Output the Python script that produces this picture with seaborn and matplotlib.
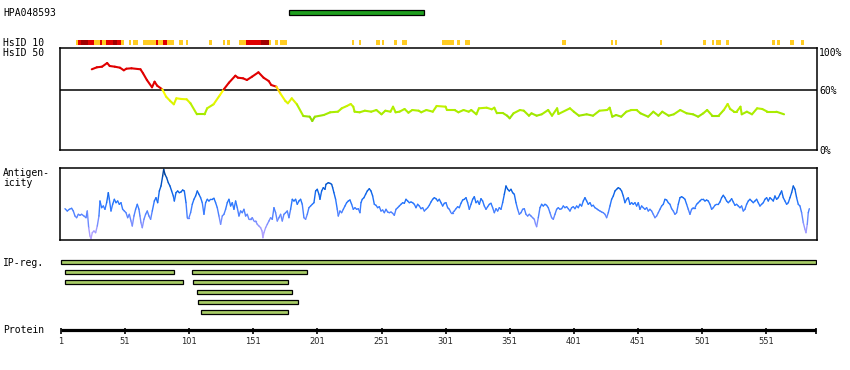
"""Protein feature overview: HsID conservation, antigenicity, IP regions."""
import matplotlib
matplotlib.use("Agg")
import matplotlib.pyplot as plt
import numpy as np
import seaborn as sns
from matplotlib.collections import LineCollection
from matplotlib.colors import LinearSegmentedColormap, Normalize
from matplotlib.patches import Rectangle

sns.set_theme(style="white")
plt.rcParams["font.family"] = ["DejaVu Sans Mono", "DejaVu Sans"]

# ---- data -----------------------------------------------------------------
PROTEIN_LEN = 590
antigen_name = "HPA048593"
antigen_start, antigen_end = 179, 284

# HsID 10 strip: residue ranges, level 0 = low, 1 = mid, 2 = high identity
hsid10_start = [13, 14.3, 16.6, 22.1, 26.7, 31.4, 33, 36.1, 41.8, 45, 47.8, 54, 57.2,
                65, 75.1, 76.7, 80.6, 83.7, 93, 98.5, 116.4, 127.4, 130.5, 139.8,
                145.3, 157, 163.2, 167.9, 171.8, 228, 233.5, 246.7, 251.4, 260.7,
                267, 298.2, 309.9, 316.1, 391.8, 430, 433.1, 468.2, 501.8, 508.8,
                512, 519.7, 555.6, 559.5, 569.6, 578.2]
hsid10_end = [14.3, 16.6, 22.1, 26.7, 31.4, 33, 36.1, 41.8, 45, 47.8, 50.1, 55.6, 61,
              75.1, 76.7, 80.6, 83.7, 89.1, 96.2, 100, 118.8, 128.9, 132.8, 145.3,
              157, 163.2, 164.8, 170.3, 177.3, 229.5, 235, 249.8, 253, 263,
              270.9, 307.6, 312.2, 320, 395, 431.6, 434.7, 469.7, 504.1, 510.4,
              515.9, 522.1, 557.9, 561.9, 572.8, 580.5]
hsid10_level = [0, 1, 2, 1, 0, 1, 0, 1, 2, 1, 0, 0, 0,
                0, 1, 0, 1, 0, 0, 0, 0, 0, 0, 0,
                1, 2, 0, 0, 0, 0, 0, 0, 0, 0,
                0, 0, 0, 0, 0, 0, 0, 0, 0, 0,
                0, 0, 0, 0, 0, 0]

# HsID 50 identity (%) along the sequence
hsid50_res = [25, 29, 33, 37, 39, 43, 47, 50, 52, 56, 63, 65, 68, 72, 74, 76, 80, 83,
              86, 89, 91, 95, 99, 102, 107, 113, 115, 120, 125, 128, 132, 137, 139,
              143, 146, 150, 155, 159, 163, 165, 169, 172, 176, 178, 181, 185, 190,
              195, 197, 199, 206, 211, 217, 220, 224, 227, 229, 230, 234, 238, 243,
              247, 251, 254, 258, 260, 262, 265, 269, 272, 275, 280, 282, 286, 291,
              294, 301, 302, 308, 311, 315, 319, 321, 325, 327, 333, 337, 339, 341,
              346, 349, 351, 354, 359, 362, 366, 368, 372, 376, 381, 384, 388, 389,
              398, 401, 405, 411, 416, 421, 427, 429, 431, 434, 438, 442, 446, 450,
              453, 459, 463, 467, 470, 475, 479, 484, 489, 494, 498, 502, 505, 509,
              514, 518, 521, 523, 526, 528, 531, 532, 536, 540, 544, 548, 552, 559,
              565]
hsid50_pct = [80.7, 82.7, 83.3, 87, 84, 83.3, 82.3, 79.7, 81.3, 81.7, 80.7, 76.7, 70,
              62.7, 68.3, 64.3, 60.7, 53.3, 49.3, 45.7, 51.7, 51, 50.7, 46.7, 35.7,
              35.7, 41.7, 45.7, 55, 60.7, 67.3, 74.3, 72.3, 71.7, 70, 73.3, 77.7,
              72.3, 69, 65, 63.3, 56.7, 49, 46.7, 51.7, 45.7, 34, 33.3, 29, 33.3, 35,
              37.7, 38.3, 41.7, 44, 46, 43.3, 38.3, 37.7, 39.3, 38.3, 40, 35.7, 39.3,
              38.3, 43.3, 37.7, 38.3, 41, 37.3, 40, 39.3, 37.7, 40, 38.3, 44, 43.3,
              40, 40, 37.7, 40, 38.3, 40, 35.7, 41.7, 42.3, 40.7, 42.3, 36.7, 36.7,
              34.3, 31.7, 36.7, 40, 39.3, 34.3, 36.7, 34.3, 35.7, 40, 34.3, 41.7, 36,
              41.7, 38.3, 34.3, 35.7, 34.3, 39.3, 40, 42.3, 33.3, 35, 33.3, 38.3, 40,
              40, 36.7, 33.3, 38.3, 34.3, 38.3, 34.3, 35.7, 40, 36.7, 35.7, 33.3,
              36.7, 40, 34.3, 34.3, 40, 46, 41, 38.3, 38.3, 43.3, 35.7, 38.3, 35.7,
              41.7, 41, 38.3, 38.3, 35.7]

# antigenicity profile (arbitrary score)
antigen_res = [
    4.1, 5.9, 7.5, 9.3, 10.6, 11.9, 13.2, 14.5, 15.8, 17.1, 18.9, 20.5, 21.5, 22.6,
    23.6, 24.4, 25.4, 26.7, 28, 29.3, 30.6, 31.4, 32.7, 34, 35.3, 36.6, 37.9, 38.7,
    40, 41.3, 42.6, 43.9, 45.2, 46.5, 47.8, 49.1, 50.4, 51.7, 53, 54.3, 55.6, 56.6,
    57.9, 59.2, 60.5, 61.8, 62.6, 63.4, 64.4, 65.7, 67, 68.3, 69.6, 70.9, 72.2, 73.8,
    75.1, 76.4, 77.7, 79, 80.3, 81.1, 82.1, 83.4, 84.7, 86, 87.3, 88.6, 89.4, 90.7,
    92, 93.3, 94.6, 95.9, 97.2, 98.5, 99.5, 100.8, 102.1, 103.4, 104.7, 106, 107.3,
    108.6, 109.9, 111.2, 112.5, 113.8, 115.1, 116.4, 117.7, 119, 120.3, 121.6, 122.9,
    124.2, 125.5, 126.8, 128.1, 129.4, 130.7, 132, 133.3, 134.6, 135.9, 137.2, 138.5,
    139.8, 141.1, 142.4, 143.7, 145, 146.3, 147.6, 148.9, 150.2, 151.5, 152.8, 154.1,
    155.4, 156.7, 157.8, 158.5, 159.3, 160.6, 161.9, 163.2, 164.5, 165.8, 167.1,
    168.4, 169.7, 171, 172.3, 173.6, 174.9, 176.2, 177.5, 178.8, 180.1, 181.4, 182.7,
    184, 185.3, 186.6, 187.9, 189.2, 190.5, 191.8, 193.1, 194.4, 195.7, 197, 198.3,
    199.6, 200.9, 202.2, 203,
    204.3, 205.6, 206.9, 207.7, 209.5, 210.8, 212.1, 212.9, 213.9, 215.2, 216.5,
    217.3, 218.6, 219.9, 221.2, 222.5, 223.8, 225.1, 226.4, 227.7, 229, 230.3, 231.6,
    232.9, 234.2, 235, 236, 237.3, 238.6, 239.9, 241.5, 242.8, 244.1, 245.4, 246.7,
    248, 249.3, 250.6, 251.9, 253.2, 254.5, 255.8, 257.1, 258.4, 259.7, 261, 262.3,
    263.6, 264.9, 266.2, 267.5, 268.8, 270.1, 271.4, 272.7, 274, 275.3, 276.6, 277.9,
    279.2, 280.5, 281.8, 283.1, 284.4, 285.7, 287, 288.3, 289.6, 290.9, 292.2, 293.5,
    294.8, 296.1, 297.4, 298.7, 300, 301.3, 302.6, 303.9, 305.2, 306.5, 307.8, 309.1,
    310.4, 311.7, 313, 314.3, 315.6, 316.9, 318.2, 319.5, 320.8, 322.1, 323.4, 324.7,
    326, 327.3, 328.6, 329.9, 331.2, 332.5, 333.8, 335.1, 336.4, 337.7, 339, 340.3,
    341.6, 342.9, 344.2, 345.5, 346.8, 348.1, 349.4, 350.7, 352, 353.3, 354.6, 355.9,
    357.2, 358.5, 359.8, 361.1, 362.4, 363.7, 365, 366.3, 367.6, 368.9, 370.2, 371.2,
    372, 373.3, 374.6, 375.9, 377.2, 378.5, 379.8, 381.1, 382.4, 383.7, 385, 386.3,
    387.6, 388.9, 390.2, 391.5, 392.8, 394.1, 395.4, 396.7, 398,
    399.3, 400.6, 401.9, 403.2, 404.5, 405.8, 407.1, 408.4, 409.7, 411, 412.3, 413.6,
    414.9, 416.2, 417.5, 418.8, 420.1, 421.4, 422.7, 424, 425.3, 426.6, 427.9, 429.2,
    430.5, 431.8, 433.1, 434.4, 435.7, 437, 438.3, 439.6, 440.9, 442.2, 443.5, 444.8,
    446.1, 447.4, 448.7, 450, 451.3, 452.6, 453.9, 455.2, 456.5, 457.8, 459.1, 460.4,
    461.7, 463, 464.3, 465.6, 466.9, 468.2, 469.5, 470.8, 472.1, 473.4, 474.7, 476,
    477.3, 478.6, 479.9, 481.2, 482.5, 483.8, 485.1, 486.4, 487.7, 489, 490.3, 491.6,
    492.9, 494.2, 495.5, 496.8, 498.1, 499.4, 500.7, 502, 503.3, 504.6, 505.9, 507.2,
    508.5, 509.8, 511.1, 512.4, 513.7, 515, 516.3, 517.6, 518.9, 520.2, 521.5, 522.8,
    524.1, 525.4, 526.7, 528, 529.3, 530.6, 531.9, 533.2, 534.5, 535.8, 537.1, 538.4,
    539.7, 541, 542.3, 543.6, 544.9, 546.2, 547.5, 548.8, 550.1, 551.4, 552.7, 554,
    555.3, 556.6, 557.9, 559.2, 560.5, 561.8, 563.1, 564.4, 565.7, 567, 568.3, 569.6,
    570.9, 572.2, 573.5, 574.8, 576.1, 577.4, 578.7, 580, 581.3, 582.1, 583.1, 583.9,
    584.7]
antigen_score = [
    31.3, 29, 30.7, 31.7, 29, 24, 22.3, 25.7, 24.7, 25.7, 24, 22.3, 29, 12.3,
    4, 1.3, 7.3, 9, 7.3, 14, 24, 39, 32.3, 34, 30.7, 37.3, 47.3, 40.7,
    29, 35.7, 40.7, 37.3, 39, 35.7, 37.3, 30.7, 29, 27.3, 22.3, 25.7, 19, 14,
    24, 30.7, 35.7, 30.7, 24, 17.3, 12.3, 20.7, 25.7, 29, 24, 20.7, 29, 39,
    42.3, 37.3, 49, 54, 64, 70.7, 65.7, 62.3, 57.3, 54, 49, 44, 39, 47.3,
    49, 47.3, 48, 50, 49, 37.3, 22.3, 22.3, 27.3, 35.7, 40.7, 44, 49,
    45.7, 42.3, 37.3, 25.7, 37.3, 40.7, 39, 40.7, 40.7, 41.7, 37.3, 32.3,
    24, 15.7, 24, 25.7, 30.7, 37.3, 40.7, 34, 37.3, 30.7, 39, 32.3,
    24, 29, 27.3, 30.7, 24, 25.7, 20.7, 20.7, 22.3, 19, 19, 15.7,
    14, 12.3, 9, 2.3, 7.3, 12.3, 15.7, 19, 22.3, 20.7, 32.3,
    27.3, 19, 22.3, 25.7, 19, 25.7, 27.3, 29, 22.3, 30.7, 40.7, 39,
    40.7, 35.7, 39, 40.7, 35.7, 22.3, 20.7, 25.7, 32.3, 34, 35.7, 37.3,
    49, 50.7, 45.7, 40.7,
    49, 52.3, 50.7, 55.7, 57.3, 56.7, 55.7, 52.3, 47.3, 40.7, 30.7,
    24, 29, 27.3, 30.7, 34, 37.3, 39, 40, 35.7, 30.7, 32.3, 30.7,
    31.3, 27.3, 37.3, 40.7, 42.3, 45.7, 49, 51.3, 49, 44, 35.7, 34.7,
    32.3, 33.3, 29, 30, 27.3, 30.7, 28, 27.3, 28, 26.7, 24.7, 30.7,
    32.3, 34, 35.7, 37.3, 36.7, 40.7, 39, 37.3, 38, 37.3, 35.7, 32.3,
    35.7, 34, 31.3, 32.3, 29, 30.7, 32.3, 34.7, 38, 40.7, 42.3, 41.3,
    39, 40.7, 37.3, 34, 36.7, 37.3, 32.3, 30.7, 27.3, 27.3, 29, 31.3,
    33.3, 32.3, 36.7, 40, 40.7, 42.3, 37.3, 30.7, 35.7, 40.7, 43.3, 37.3,
    39, 35.7, 41.3, 39, 34, 30.7, 33.3, 35.7, 36.7, 32.3, 27.3, 31.3,
    29, 32.3, 30.7, 37.3, 45.7, 54, 50.7, 49, 50.7, 47.3, 45.7, 37.3,
    30.7, 25.7, 27.3, 30.7, 31.3, 25.7, 24, 25.7, 24, 22.3, 20.7, 15.7,
    13.3, 22.3, 32.3, 35.7, 34, 35.7, 34.7, 32.3, 27.3, 22.3, 20.7, 25.7,
    30.7, 32.3, 30.7, 31.3, 34, 32.3, 33.3, 31.3, 29,
    32.3, 33.3, 31.3, 34, 32.3, 35.7, 34, 39, 42.3, 39, 35.7, 37.3,
    34, 34.7, 32.3, 31.3, 30, 29, 28, 27.3, 25.7, 22.3, 27.3, 34,
    40.7, 44, 49, 50.7, 52.3, 51.3, 49, 44, 37.3, 40.7, 42.3, 35.7,
    37.3, 35.7, 37.3, 34, 37.3, 30.7, 34, 32.3, 30.7, 32.3, 29, 30.7,
    29, 25.7, 22.3, 24, 27.3, 30.7, 34, 35.7, 40.7, 40, 37.3, 35.7,
    31.3, 29, 25.7, 27.3, 35.7, 42.3, 43.3, 42.3, 40.7, 35.7, 30.7, 25.7,
    30.7, 32.3, 32.3, 35.7, 37.3, 39, 40.7, 40.7, 39, 40, 39, 35.7,
    30.7, 32.3, 34.7, 35.7, 35.7, 38, 42.3, 44.7, 42.3, 39, 37.3, 39,
    41.3, 38, 34.7, 35.7, 34, 32.3, 34, 29, 30.7, 35.7, 39, 40.7,
    39, 37.3, 39, 40.7, 37.3, 34, 35.7, 37.3, 40.7, 42.3, 39, 42.3,
    40.7, 39, 44, 40.7, 42.3, 45.7, 49, 42.3, 39, 35.7, 37.3, 42.3,
    47.3, 54, 50.7, 42.3, 35.7, 34, 27.3, 17.3, 10.7, 7.3, 15.7, 27.3,
    31.3]

# IP regions (residue ranges) and the row each one is drawn on
ipreg_start = [1, 4, 103, 4, 104, 107, 108, 110]
ipreg_end = [590, 89, 193, 96, 178, 181, 186, 178]
ipreg_row = [0, 1, 1, 2, 2, 3, 4, 5]

tick_pos = [1, 51, 101, 151, 201, 251, 301, 351, 401, 451, 501, 551]
tick_labels = ["1", "51", "101", "151", "201", "251", "301", "351", "401", "451",
               "501", "551"]

# ---- layout helpers (figure pixels) ---------------------------------------
W, H = 850, 370
XLIM = (0.22, 590.7)
STRIP_COLORS = ["#ffcc22", "#e00000", "#a00000"]


def px_box(x0, y0, x1, y1):
    return [x0 / W, 1 - y1 / H, (x1 - x0) / W, (y1 - y0) / H]


def label(x, y, s, **kw):
    fig.text(x / W, 1 - y / H, s, va="center", ha="left", fontsize=7,
             color="black", **kw)


def colored_line(ax, x, y, cmap, norm, lw):
    pts = np.column_stack([x, y]).reshape(-1, 1, 2)
    segs = np.concatenate([pts[:-1], pts[1:]], axis=1)
    lc = LineCollection(segs, cmap=cmap, norm=norm, linewidths=lw,
                        capstyle="round", joinstyle="round")
    yv = np.asarray(y, dtype=float)
    lc.set_array((yv[:-1] + yv[1:]) / 2)
    ax.add_collection(lc)


def boxed(ax):
    ax.set_xlim(*XLIM)
    ax.set_xticks([])
    ax.set_yticks([])
    ax.set_facecolor("white")
    for sp in ax.spines.values():
        sp.set_visible(True)
        sp.set_color("black")
        sp.set_linewidth(1.1)


fig = plt.figure(figsize=(8.5, 3.7), dpi=100)

# track axes: x in residues, y in pixel rows
trk = fig.add_axes(px_box(60, 0, 817, 370))
trk.set_xlim(*XLIM)
trk.set_ylim(370, 0)
trk.axis("off")

trk.add_patch(Rectangle((antigen_start, 10.3), antigen_end - antigen_start, 4.3,
                        facecolor="#1f9f1f", edgecolor="black", linewidth=0.9))

for s, e, lv in zip(hsid10_start, hsid10_end, hsid10_level):
    trk.barh(42.5, e - s, left=s, height=5, color=STRIP_COLORS[lv], linewidth=0)

for s, e, r in zip(ipreg_start, ipreg_end, ipreg_row):
    trk.add_patch(Rectangle((s, 260.2 + 10 * r), e - s, 4.2, facecolor="#a8cc66",
                            edgecolor="black", linewidth=0.9))

trk.plot([1, PROTEIN_LEN], [329.8, 329.8], color="black", lw=2.3,
         solid_capstyle="butt")
for p in tick_pos + [PROTEIN_LEN]:
    trk.plot([p, p], [328.3, 333.5], color="black", lw=1.2, solid_capstyle="butt")
for p, t in zip(tick_pos, tick_labels):
    trk.text(p, 341.7, t, ha="center", va="center", fontsize=6,
             family="DejaVu Sans")

# HsID 50 panel
ax1 = fig.add_axes(px_box(60, 48, 817, 150))
boxed(ax1)
ax1.set_ylim(0, 102)
ax1.axhline(60, color="black", lw=1.1)
hsid_cmap = LinearSegmentedColormap.from_list("hsid", [
    (0.0, "#3a7a00"), (0.26, "#77cc00"), (0.33, "#99e400"), (0.40, "#b0f000"),
    (0.46, "#d2f200"), (0.52, "#ecf800"), (0.58, "#ffff00"), (0.605, "#ffcc00"),
    (0.62, "#e00000"), (1.0, "#e00000")])
colored_line(ax1, hsid50_res, hsid50_pct, hsid_cmap, Normalize(0, 100), 1.5)

# antigenicity panel
ax2 = fig.add_axes(px_box(60, 168, 817, 240))
boxed(ax2)
ax2.set_ylim(0, 72)
ag_cmap = sns.blend_palette(["#c0a8ff", "#9a98ff", "#5b85ff", "#2a78ff",
                             "#0a62e6", "#0050c0", "#003c8c"], as_cmap=True)
colored_line(ax2, antigen_res, antigen_score, ag_cmap, Normalize(0, 72), 1.0)

# text labels
label(3, 12.5, antigen_name)
label(3, 42.5, "HsID 10")
label(3, 52.7, "HsID 50")
label(3, 172.7, "Antigen-")
label(3, 183, "icity")
label(3, 263.5, "IP-reg.")
label(3, 330, "Protein")
label(819, 52.7, "100%")
label(819, 90.7, "60%")
label(819, 150.7, "0%")

fig.savefig("out.png", dpi=100, facecolor="white")
